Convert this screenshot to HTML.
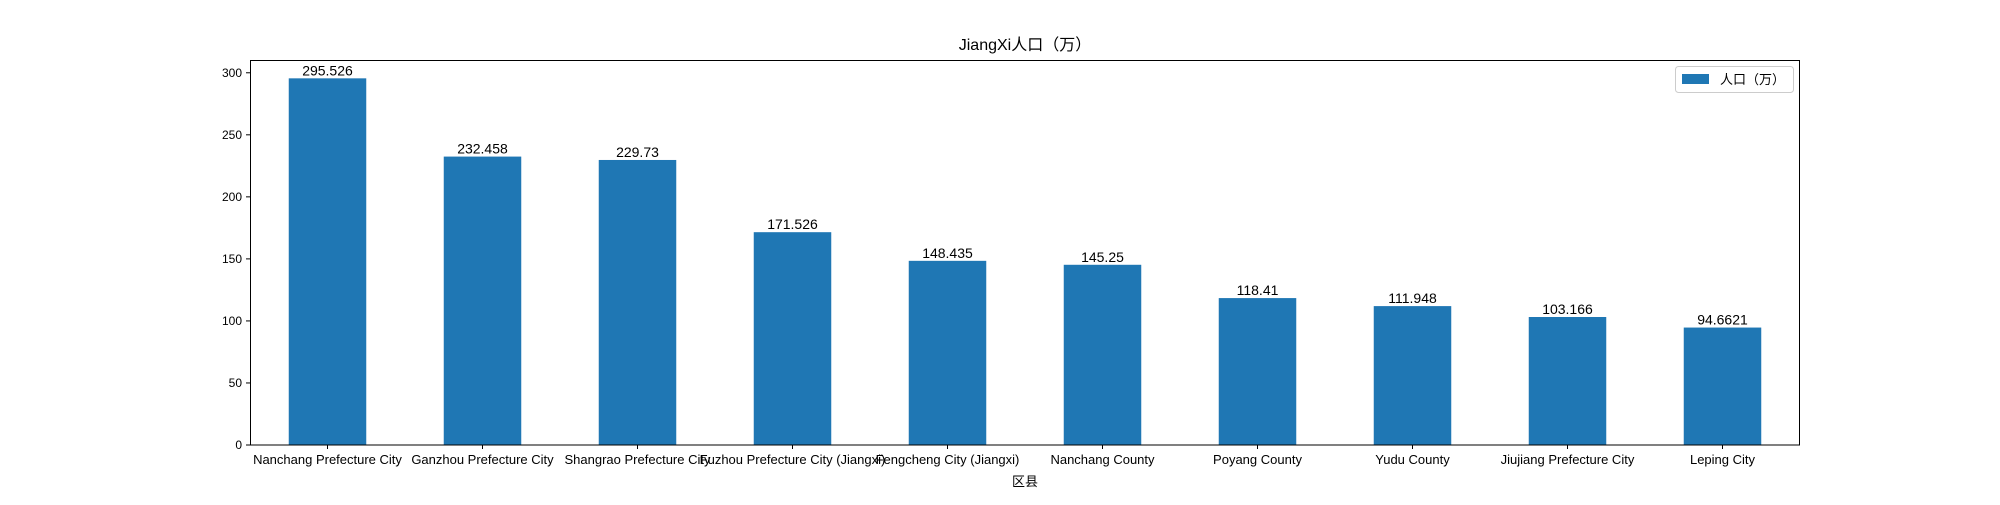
<!DOCTYPE html>
<html><head><meta charset="utf-8"><style>
body{margin:0;background:#fff;width:2000px;height:500px;overflow:hidden}
text{font-family:"Liberation Sans","Noto Sans CJK SC",sans-serif;fill:#000}
</style></head><body>
<svg id="chart" width="2000" height="500" xmlns="http://www.w3.org/2000/svg">
<text x="1025" y="50" font-size="16" text-anchor="middle">JiangXi人口（万）</text>
<g id="plot"></g>
<rect x="250.5" y="60.5" width="1549" height="384.5" fill="none" stroke="#000" stroke-width="1"/>
<text x="1025" y="486" font-size="13" text-anchor="middle">区县</text>
<g>
<rect x="1675.5" y="66.5" width="118" height="26" rx="3" fill="#fff" stroke="#ccc"/>
<rect x="1682" y="74" width="27" height="10" fill="#1f77b4"/>
<text x="1720" y="84" font-size="13">人口（万）</text>
</g>
</svg>
<script>
const categories=["Nanchang Prefecture City","Ganzhou Prefecture City","Shangrao Prefecture City","Fuzhou Prefecture City (Jiangxi)","Fengcheng City (Jiangxi)","Nanchang County","Poyang County","Yudu County","Jiujiang Prefecture City","Leping City"];
const values=[295.526,232.458,229.73,171.526,148.435,145.25,118.41,111.948,103.166,94.6621];
const valueLabels=["295.526","232.458","229.73","171.526","148.435","145.25","118.41","111.948","103.166","94.6621"];
const yTicks=[0,50,100,150,200,250,300];
const L=250,R=1800,T=60,B=445;
const ymax=Math.max(...values)*1.05;
const y=v=>B-(B-T)*v/ymax;
const step=(R-L)/categories.length;
const x=i=>L+step*(i+0.5);
const g=document.getElementById('plot');
const NS='http://www.w3.org/2000/svg';
function mk(t,a){const e=document.createElementNS(NS,t);for(const k in a)e.setAttribute(k,a[k]);g.appendChild(e);return e;}
yTicks.forEach(v=>{
 const l=mk('line',{x1:L-4,x2:L,y1:y(v),y2:y(v),stroke:'#000'});
 
 
 const t=mk('text',{x:L-8,y:y(v)+4,'font-size':12,'text-anchor':'end'});t.textContent=v;
 
 
});
categories.forEach((c,i)=>{
 const bw=step*0.5;
 const r=mk('rect',{x:x(i)-bw/2,y:y(values[i]),width:bw,height:B-y(values[i]),fill:'#1f77b4'});
 
 
 const vl=mk('text',{x:x(i),y:y(values[i])-3,'font-size':14,'text-anchor':'middle'});vl.textContent=valueLabels[i];
 
 
 const tk=mk('line',{x1:x(i),x2:x(i),y1:B,y2:B+4,stroke:'#000'});
 
 
 const t=mk('text',{x:x(i),y:B+19,'font-size':13,'text-anchor':'middle'});t.textContent=c;
 
 
});
</script>
</body></html>
